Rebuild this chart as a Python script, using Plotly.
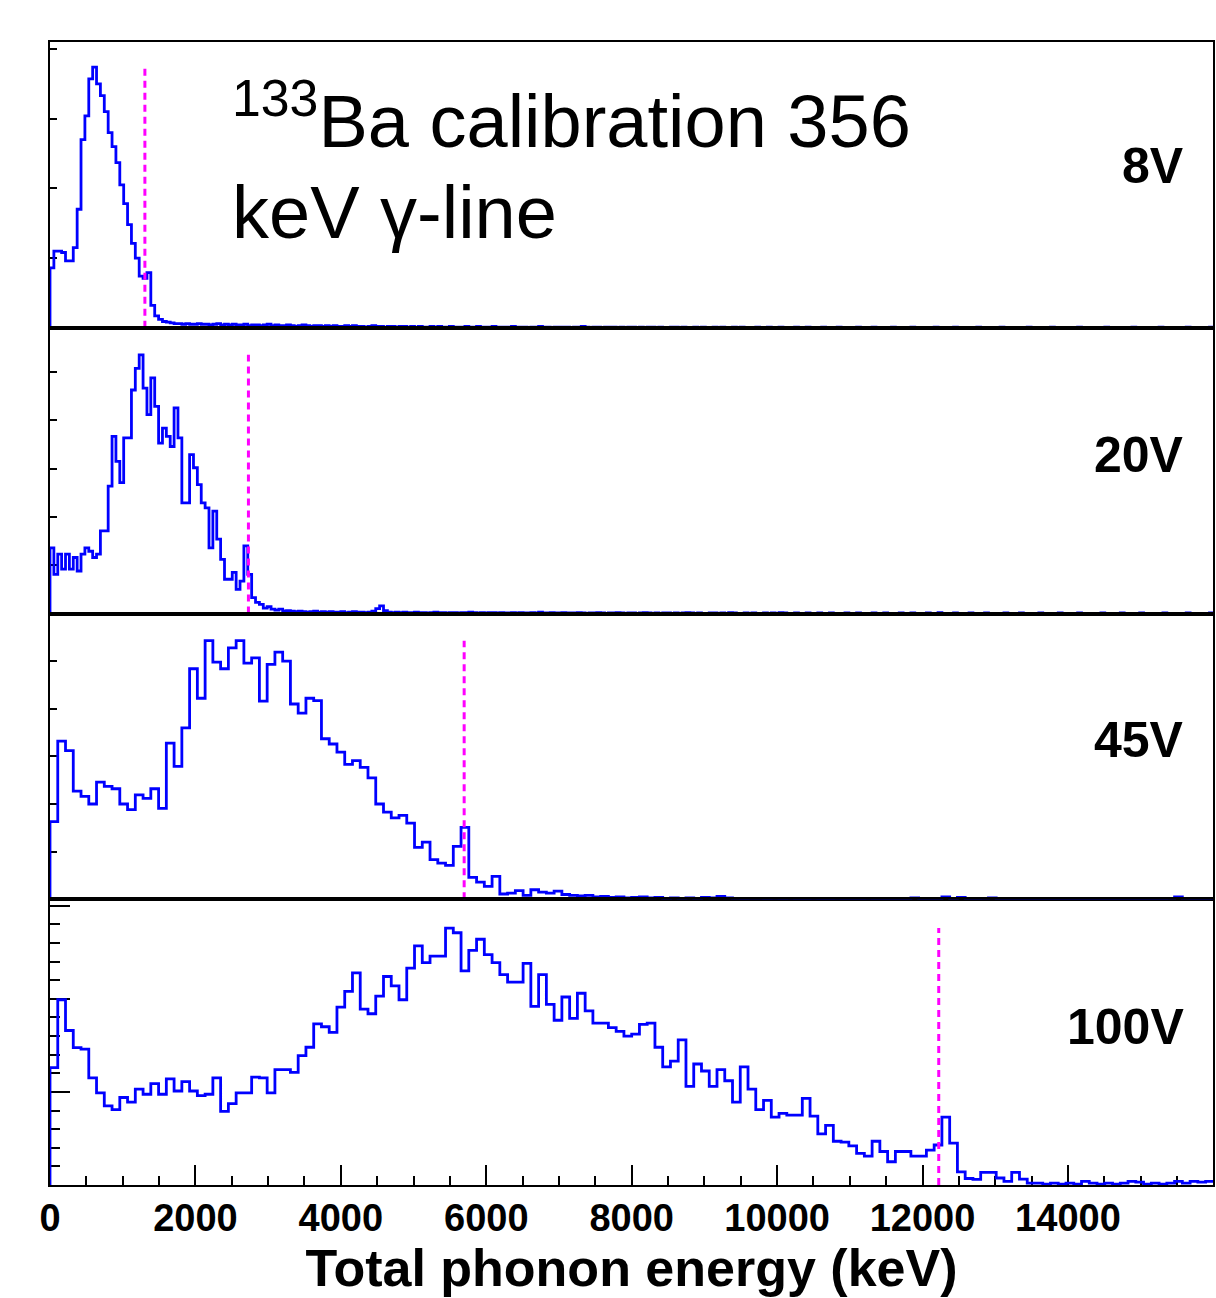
import numpy as np
import plotly.graph_objects as go
from plotly.subplots import make_subplots

# ---------------- data ----------------
E_MAX = 16000.0
N_BINS_FINE = 300      # 8V and 20V histograms
N_BINS_COARSE = 150    # 45V and 100V histograms

voltages = ["8V", "20V", "45V", "100V"]
gamma_line_kev = [1305, 2729, 5696, 12223]   # 356 keV line after NTL gain

counts_8V = [
    0.86, 1.10, 1.10, 1.08, 0.96, 0.96, 1.15, 1.70, 2.70, 3.04,
    3.57, 3.74, 3.50, 3.33, 3.10, 2.80, 2.60, 2.37, 2.05, 1.78,
    1.48, 1.21, 1.00, 0.74, 0.71, 0.79, 0.32, 0.17, 0.12, 0.09,
    0.08, 0.07, 0.06,
    0.06, 0.05, 0.06, 0.05, 0.05, 0.06, 0.05, 0.05, 0.04, 0.05, 0.06, 0.04, 0.05, 0.04, 0.05, 0.04, 0.04, 0.05, 0.03, 0.04,
    0.04, 0.03, 0.04, 0.05, 0.03, 0.04, 0.03, 0.03, 0.04, 0.03, 0.02, 0.03, 0.04, 0.03, 0.02, 0.03, 0.03, 0.02, 0.03, 0.02,
    0.03, 0.02, 0.02, 0.03, 0.02, 0.03, 0.02, 0.02, 0.01, 0.02, 0.03, 0.02, 0.02, 0.01, 0.02, 0.02, 0.01, 0.02, 0.02, 0.01,
    0.02, 0.01, 0.02, 0.01, 0.01, 0.02, 0.01, 0.02, 0.01, 0.01, 0.02, 0.01, 0.01, 0.01, 0.02, 0.01, 0.01, 0.02, 0.01, 0.01,
    0.01, 0.02, 0.01, 0.01, 0.01, 0.01, 0.02, 0.01, 0.01, 0.01, 0.0, 0.01, 0.01, 0.02, 0.01, 0.01, 0.0, 0.01, 0.01, 0.01,
    0.01, 0.0, 0.01, 0.01, 0.02, 0.01, 0.0, 0.01, 0.01, 0.0, 0.01, 0.01, 0.01, 0.0, 0.01, 0.0, 0.01, 0.01, 0.0, 0.01,
    0.0, 0.01, 0.01, 0.0, 0.01, 0.0, 0.0, 0.01, 0.01, 0.0, 0.01, 0.0, 0.0, 0.01, 0.0, 0.01, 0.0, 0.0, 0.01, 0.0,
    0.01, 0.0, 0.0, 0.01, 0.0, 0.01, 0.0, 0.0, 0.0, 0.01, 0.0, 0.0, 0.01, 0.0, 0.0, 0.01, 0.0, 0.0, 0.0, 0.01,
    0.0, 0.0, 0.01, 0.0, 0.0, 0.0, 0.01, 0.0, 0.0, 0.0, 0.01, 0.0, 0.0, 0.0, 0.0, 0.01, 0.0, 0.0, 0.0, 0.01,
    0.0, 0.0, 0.0, 0.0, 0.01, 0.0, 0.0, 0.0, 0.0, 0.01, 0.0, 0.0, 0.0, 0.0, 0.0, 0.01, 0.0, 0.0, 0.0, 0.0,
    0.01, 0.0, 0.0, 0.0, 0.0, 0.0, 0.01, 0.0, 0.0, 0.0, 0.0, 0.0, 0.01, 0.0, 0.0, 0.0, 0.0, 0.0, 0.0, 0.01,
    0.0, 0.0, 0.0, 0.0, 0.0, 0.01, 0.0, 0.0, 0.0, 0.0, 0.0, 0.0, 0.01, 0.0, 0.0, 0.0, 0.0, 0.0, 0.0, 0.01,
    0.0, 0.0, 0.0, 0.0, 0.0, 0.0, 0.01, 0.0, 0.0, 0.0, 0.0, 0.0, 0.0, 0.01, 0.0, 0.0, 0.0, 0.0, 0.0, 0.0,
    0.01, 0.0, 0.0, 0.0, 0.0, 0.0, 0.01,
]

counts_20V = [
    1.36, 0.81, 1.23, 0.92, 1.23, 0.92, 1.16, 0.88, 1.23, 1.36,
    1.29, 1.16, 1.23, 1.71, 1.71, 2.64, 3.67, 3.15, 2.71, 3.64,
    3.64, 4.63, 5.08, 5.36, 4.67, 4.12, 4.88, 4.29, 3.53, 3.84,
    3.67, 3.46, 4.26, 3.64, 2.29, 2.29, 3.29, 3.02, 2.67, 2.29,
    2.19, 1.36, 2.12, 1.54, 1.12, 0.71, 0.71, 0.85, 0.50, 0.67,
    1.40, 0.81, 0.33, 0.23, 0.19, 0.11, 0.14, 0.09, 0.07, 0.09,
    0.055,
    0.06, 0.05, 0.04, 0.05, 0.04, 0.03, 0.04, 0.05, 0.03, 0.04, 0.03, 0.04, 0.03, 0.03, 0.04, 0.02, 0.03, 0.04, 0.03, 0.03,
    0.02, 0.03, 0.05, 0.10, 0.16, 0.06, 0.03, 0.02, 0.03, 0.02, 0.03, 0.02, 0.02, 0.03, 0.02, 0.02, 0.01, 0.02, 0.03, 0.02,
    0.02, 0.01, 0.02, 0.02, 0.01, 0.02, 0.02, 0.03, 0.02, 0.01, 0.02, 0.01, 0.02, 0.02, 0.01, 0.02, 0.01, 0.01, 0.02, 0.01,
    0.02, 0.01, 0.01, 0.02, 0.01, 0.03, 0.01, 0.01, 0.02, 0.01, 0.01, 0.02, 0.01, 0.01, 0.01, 0.02, 0.01, 0.0, 0.01, 0.01,
    0.02, 0.01, 0.0, 0.01, 0.01, 0.02, 0.01, 0.0, 0.01, 0.01, 0.0, 0.01, 0.02, 0.01, 0.0, 0.01, 0.0, 0.01, 0.01, 0.0,
    0.01, 0.0, 0.01, 0.02, 0.01, 0.0, 0.01, 0.0, 0.0, 0.01, 0.01, 0.0, 0.01, 0.0, 0.02, 0.01, 0.0, 0.0, 0.01, 0.0,
    0.01, 0.0, 0.0, 0.01, 0.0, 0.01, 0.0, 0.02, 0.01, 0.0, 0.0, 0.01, 0.0, 0.0, 0.01, 0.0, 0.0, 0.01, 0.0, 0.0,
    0.01, 0.0, 0.0, 0.0, 0.01, 0.0, 0.0, 0.01, 0.0, 0.0, 0.0, 0.01, 0.0, 0.0, 0.01, 0.0, 0.0, 0.0, 0.01, 0.0,
    0.0, 0.01, 0.0, 0.0, 0.0, 0.01, 0.0, 0.0, 0.02, 0.0, 0.0, 0.0, 0.01, 0.0, 0.0, 0.0, 0.01, 0.0, 0.0, 0.0,
    0.01, 0.0, 0.0, 0.0, 0.0, 0.01, 0.0, 0.0, 0.0, 0.01, 0.0, 0.0, 0.0, 0.0, 0.01, 0.0, 0.0, 0.0, 0.0, 0.01,
    0.0, 0.0, 0.0, 0.0, 0.01, 0.0, 0.0, 0.0, 0.0, 0.0, 0.01, 0.0, 0.0, 0.0, 0.0, 0.01, 0.0, 0.0, 0.0, 0.0,
    0.01, 0.0, 0.0, 0.0, 0.0, 0.0, 0.01, 0.0, 0.0, 0.0, 0.0, 0.0, 0.01, 0.0, 0.0, 0.0, 0.0, 0.0, 0.01,
]

counts_45V = [
    1.63, 3.32, 3.12, 2.27, 2.16, 2.00, 2.46, 2.37, 2.32, 2.00,
    1.88, 2.19, 2.12, 2.32, 1.91, 3.28, 2.79, 3.60, 4.84, 4.22,
    5.43, 4.98, 4.84, 5.28, 5.43, 4.96, 5.07, 4.16, 4.93, 5.19,
    5.00, 4.10, 3.91, 4.22, 4.17, 3.37, 3.26, 3.09, 2.83, 2.91,
    2.77, 2.55, 2.00, 1.83, 1.71, 1.76, 1.60, 1.09, 1.20, 0.83,
    0.76, 0.71, 1.11, 1.51, 0.46, 0.36, 0.27, 0.48, 0.11, 0.13,
    0.18,
    0.08, 0.20, 0.15, 0.13, 0.17, 0.10, 0.08, 0.07, 0.08, 0.05, 0.06, 0.04, 0.05, 0.03, 0.04, 0.05, 0.03, 0.04, 0.02, 0.03,
    0.02, 0.03, 0.02, 0.04, 0.03, 0.06, 0.03, 0.02, 0.01, 0.02, 0.02, 0.01, 0.02, 0.01, 0.02, 0.01, 0.01, 0.02, 0.01, 0.01,
    0.02, 0.01, 0.0, 0.01, 0.02, 0.01, 0.01, 0.0, 0.01, 0.01, 0.03, 0.01, 0.0, 0.01, 0.05, 0.01, 0.04, 0.0, 0.01, 0.02,
    0.03, 0.01, 0.0, 0.01, 0.0, 0.01, 0.0, 0.0, 0.01, 0.0, 0.01, 0.0, 0.0, 0.01, 0.0, 0.0, 0.01, 0.0, 0.0, 0.01,
    0.0, 0.01, 0.0, 0.02, 0.05, 0.02, 0.0, 0.01, 0.0,
]

counts_100V = [
    1.26, 1.99, 1.66, 1.475, 1.46, 1.15, 0.99, 0.85, 0.81, 0.94,
    0.89, 1.03, 0.975, 1.09, 0.975, 1.14, 1.01, 1.11, 1.01, 0.96,
    0.975, 1.15, 0.79, 0.875, 0.99, 0.99, 1.16, 1.15, 0.99, 1.24,
    1.24, 1.21, 1.39, 1.48, 1.73, 1.70, 1.64, 1.91, 2.08, 2.28,
    1.89, 1.84, 2.03, 2.24, 2.14, 1.99, 2.33, 2.57, 2.39, 2.46,
    2.46, 2.76, 2.71, 2.30, 2.52, 2.64, 2.475, 2.39, 2.26, 2.18,
    2.18, 2.38, 1.92, 2.26, 1.94, 1.77, 2.02, 1.79, 2.06, 1.87,
    1.74, 1.74, 1.69, 1.65, 1.60, 1.62, 1.725, 1.74, 1.48, 1.27,
    1.33, 1.56, 1.06, 1.30, 1.225, 1.06, 1.24, 1.12, 0.89, 1.27,
    1.03, 0.81, 0.91, 0.73, 0.77, 0.75, 0.75, 0.93, 0.74, 0.55,
    0.64, 0.47, 0.46, 0.42, 0.34, 0.31, 0.47, 0.36, 0.25, 0.36,
    0.36, 0.31, 0.31, 0.375, 0.43, 0.73, 0.45, 0.14, 0.07, 0.06,
    0.136, 0.136, 0.075, 0.04, 0.136, 0.064, 0.02, 0.02, 0.01, 0.02,
    0.01, 0.02, 0.01, 0.04, 0.02, 0.01, 0.02, 0.01, 0.02, 0.04,
    0.03, 0.01, 0.02, 0.01, 0.02, 0.04, 0.02, 0.04, 0.03, 0.04,
]

series = [counts_8V, counts_20V, counts_45V, counts_100V]
n_bins = [N_BINS_FINE, N_BINS_FINE, N_BINS_COARSE, N_BINS_COARSE]
y_top = [4.1, 5.92, 6.0, 3.07]
x_range = [0, 15995]

x_tick_vals = [0, 2000, 4000, 6000, 8000, 10000, 12000, 14000]
x_tick_text = ["0", "2000", "4000", "6000", "8000", "10000", "12000", "14000"]

# ---------------- figure ----------------
W, H = 1216, 1298
PLOT_L, PLOT_R, PLOT_T, PLOT_B = 50, 1213, 42, 1185   # page pixels
ML, MR, MT, MB = PLOT_L, W - PLOT_R, PLOT_T, H - PLOT_B
PW, PH = PLOT_R - PLOT_L, PLOT_B - PLOT_T

def px_x(px):
    return (px - PLOT_L) / PW

def px_y(py):
    return (PLOT_B - py) / PH

FONT = "Liberation Sans, Arial, Helvetica, sans-serif"

fig = make_subplots(rows=4, cols=1, shared_xaxes=True, vertical_spacing=0)

for i, counts in enumerate(series):
    r = i + 1
    bw = E_MAX / n_bins[i]
    edges = np.arange(len(counts) + 1) * bw
    xs = np.concatenate([[0.0], edges])
    ys = np.concatenate([[0.0], counts, [counts[-1]]])
    fig.add_trace(go.Scatter(
        x=xs, y=ys, mode="lines",
        line=dict(color="#0000ff", width=2.8, shape="hv"),
        showlegend=False, hoverinfo="skip"), row=r, col=1)
    fig.add_trace(go.Scatter(
        x=[gamma_line_kev[i], gamma_line_kev[i]], y=[0, max(counts)],
        mode="lines",
        line=dict(color="#ff00ff", width=3, dash="7px,5px"),
        showlegend=False, hoverinfo="skip"), row=r, col=1)

axis_common = dict(showline=True, linecolor="black", linewidth=2, mirror=True,
                   showgrid=False, zeroline=False, layer="below traces")

for i in range(4):
    r = i + 1
    xa = dict(axis_common, range=x_range)
    if r < 4:
        xa.update(ticks="", showticklabels=False)
    else:
        xa.update(ticks="inside", ticklen=20, tickwidth=2, tickcolor="black",
                  tickmode="array", tickvals=x_tick_vals, ticktext=x_tick_text,
                  tickfont=dict(family=FONT, size=38, color="black", weight="bold"),
                  ticklabelstandoff=-2,
                  minor=dict(ticks="inside", ticklen=9, tickwidth=2, tickcolor="black",
                             tickmode="linear", tick0=0, dtick=500),
                  title=dict(text="Total phonon energy (keV)",
                             font=dict(family=FONT, size=52, color="black", weight="bold"),
                             standoff=10),
                  automargin=False)
    fig.update_xaxes(xa, row=r, col=1)

    ya = dict(axis_common, range=[0, y_top[i]], showticklabels=False,
              ticks="inside", tickcolor="black", tickwidth=2,
              tickmode="linear", tick0=0, dtick=1, automargin=False)
    if r < 4:
        ya.update(ticklen=7)
    else:
        ya.update(ticklen=20,
                  minor=dict(ticks="inside", ticklen=10, tickwidth=2, tickcolor="black",
                             tickmode="linear", tick0=0, dtick=0.2))
    fig.update_yaxes(ya, row=r, col=1)

annotations = [
    dict(text="<sup>133</sup>Ba calibration 356", x=px_x(230), y=px_y(116),
         xanchor="left", yanchor="middle",
         font=dict(family=FONT, size=74, color="black")),
    dict(text="keV γ-line", x=px_x(230), y=px_y(212),
         xanchor="left", yanchor="middle",
         font=dict(family=FONT, size=74, color="black")),
]
label_y = [166, 455, 740, 1027]
for lab, ly in zip(voltages, label_y):
    annotations.append(dict(text=lab, x=px_x(1186), y=px_y(ly),
                            xanchor="right", yanchor="middle",
                            font=dict(family=FONT, size=50, color="black", weight="bold")))
for a in annotations:
    a.update(xref="paper", yref="paper", showarrow=False)

fig.update_layout(
    width=W, height=H,
    margin=dict(l=ML, r=MR, t=MT, b=MB, pad=0),
    paper_bgcolor="white", plot_bgcolor="white",
    showlegend=False,
    hovermode=False,
    annotations=annotations,
)

# remove the browser's default 8 px page margin so the figure fills the window
page_css = ("document.body.style.margin='0';"
            "document.body.style.overflow='hidden';"
            "document.documentElement.style.overflow='hidden';")
fig.write_html("out.html", post_script=page_css,
               config={"displayModeBar": False, "staticPlot": True})
